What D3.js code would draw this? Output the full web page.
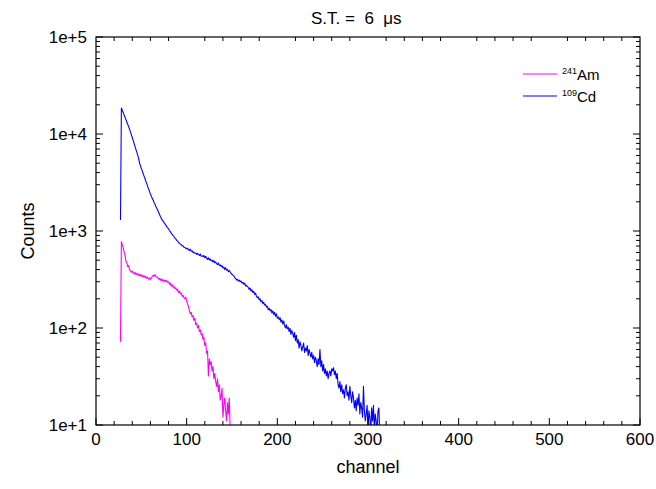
<!DOCTYPE html>
<html><head><meta charset="utf-8">
<script src="https://cdn.jsdelivr.net/npm/d3@7"></script>
<style>
body{margin:0;background:#fff;}
svg{display:block;font-family:"Liberation Sans",Arial,sans-serif;}
</style></head>
<body><svg id="c" width="656" height="489"></svg>
<script>
const title = "S.T. =  6  \u03bcs";
const xLabel = "channel";
const yLabel = "Counts";
const xTicks = [0,100,200,300,400,500,600];
const yTicks = [10,100,1000,10000,100000];
const seriesNames = ["241Am","109Cd"];
const seriesColors = ["#ff00ff","#0000ff"];
const amStart = 27;
const amCounts = [72,
780,720,680,610,560,490,470,430,440,400,
390,375,385,370,360,375,355,365,350,360,
345,355,340,350,335,345,330,340,325,332,
320,328,315,330,338,350,342,355,340,336,
330,318,325,310,322,305,315,300,312,300,
308,295,300,282,290,270,280,262,268,255,
258,245,250,232,240,225,230,212,218,205,
200,208,188,176,168,150,140,145,130,134,
120,126,108,112,100,106,92,96,85,88,
76,80,66,70,55,58,32,48,42,45,
36,40,30,34,28,25,30,22,26,18,
20,24,12,16,19,14,11,17,13,19,
9,8];
const cdStart = 27;
const cdCounts = [1300,
18500,17600,16600,15700,14900,14100,13300,12600,11900,11200,
10500,9800,9200,8600,8000,7450,6950,6500,6050,5600,
5000,4720,4400,4170,3930,3680,3480,3250,3080,2880,
2720,2560,2400,2290,2170,2090,1970,1900,1790,1720,
1640,1560,1490,1410,1350,1300,1270,1220,1190,1150,
1110,1080,1050,1010,985,950,925,895,880,845,
830,800,790,760,750,730,725,700,705,680,
675,665,655,665,640,630,650,618,625,600,
605,592,590,575,590,570,560,578,550,555,
545,560,530,548,525,508,530,502,515,492,
500,478,495,470,480,462,450,468,440,448,
430,440,415,425,400,418,395,402,380,392,
378,365,358,350,345,330,325,312,318,305,
312,300,305,290,296,282,290,270,276,268,
262,250,258,240,248,232,238,222,228,212,
205,210,195,200,186,192,178,184,172,175,
164,168,154,160,150,155,143,150,138,145,
132,140,126,130,122,128,115,121,110,118,
106,100,108,98,102,92,99,86,94,88,
80,90,74,84,70,76,62,72,66,58,
64,70,56,62,58,66,52,60,55,50,
56,48,52,44,50,46,40,48,42,60,
40,46,36,42,34,38,32,36,30,34,
36,32,38,36,39,33,36,30,34,26,
24,28,22,26,21,23,19,24,26,20,
22,18,25,20,17,22,19,15,18,14,
19,16,21,13,17,15,12,25,14,11,
13,16,9,14,12,8,15,11,16,9,
13,11,8,14,15,8];

const svg = d3.select("#c");
const L=96, R=640, T=37, B=425;
const x = d3.scaleLinear().domain([0,600]).range([L,R]);
const y = d3.scaleLog().domain([10,100000]).range([B,T]);

svg.append("defs").append("clipPath").attr("id","clip")
  .append("rect").attr("x",L).attr("y",T).attr("width",R-L).attr("height",B-T);

const series = [
  {name:seriesNames[0], color:seriesColors[0], data:amCounts.map((v,i)=>({ch:amStart+i,v}))},
  {name:seriesNames[1], color:seriesColors[1], data:cdCounts.map((v,i)=>({ch:cdStart+i,v}))}
];
const line = d3.line().x(d=>x(d.ch)).y(d=>y(Math.max(d.v,1)));
const gl = svg.append("g").attr("clip-path","url(#clip)");
series.forEach(s=>{
  gl.append("path").datum(s.data).attr("d",line).attr("fill","none")
    .attr("stroke",s.color).attr("stroke-width",1.1).attr("stroke-linejoin","round");
});

// frame
svg.append("rect").attr("x",L).attr("y",T).attr("width",R-L).attr("height",B-T)
  .attr("fill","none").attr("stroke","#000").attr("stroke-width",1.2);

// x ticks
const xMinor = d3.range(0,601,20);
const tk = svg.append("g").attr("stroke","#000").attr("stroke-width",1);
xMinor.forEach(v=>{
  const major = v%100===0;
  tk.append("line").attr("x1",x(v)).attr("x2",x(v)).attr("y1",B).attr("y2",B-(major?7:4));
  if(!major) tk.append("line").attr("x1",x(v)).attr("x2",x(v)).attr("y1",T).attr("y2",T+4);
});
svg.append("g").selectAll("text").data(xTicks).join("text")
  .attr("x",d=>x(d)).attr("y",B+20).attr("text-anchor","middle")
  .attr("font-size",17).text(d=>d);

// y ticks
const yMinor = [];
for(let e=1;e<5;e++) for(let m=1;m<10;m++) yMinor.push(m*Math.pow(10,e));
yMinor.push(100000);
yMinor.forEach(v=>{
  const major = Math.abs(Math.log10(v)%1)<1e-9;
  tk.append("line").attr("x1",L).attr("x2",L+(major?7:4)).attr("y1",y(v)).attr("y2",y(v));
  tk.append("line").attr("x1",R).attr("x2",R-(major?7:4)).attr("y1",y(v)).attr("y2",y(v));
});
svg.append("g").selectAll("text").data(yTicks).join("text")
  .attr("x",L-9).attr("y",d=>y(d)+6).attr("text-anchor","end")
  .attr("font-size",17).text(d=>"1e+"+Math.round(Math.log10(d)));

// titles
svg.append("text").attr("x",311).attr("y",24).attr("text-anchor","start")
  .attr("xml:space","preserve").style("white-space","pre")
  .attr("font-size",17).text(title);
svg.append("text").attr("x",(L+R)/2).attr("y",473).attr("text-anchor","middle")
  .attr("font-size",18).text(xLabel);
svg.append("text").attr("transform","translate(34,"+((T+B)/2)+") rotate(-90)")
  .attr("text-anchor","middle").attr("font-size",18).text(yLabel);

// legend
series.forEach((s,i)=>{
  const ly = 74 + i*22;
  svg.append("line").attr("x1",523).attr("x2",557).attr("y1",ly).attr("y2",ly)
    .attr("stroke",s.color).attr("stroke-width",1.1);
  const m = s.name.match(/^(\d+)(.*)$/);
  const t = svg.append("text").attr("x",562).attr("y",ly+6).attr("font-size",15);
  t.append("tspan").attr("font-size",9).attr("dy",-6).text(m[1]);
  t.append("tspan").attr("dy",6).text(m[2]);
});
</script></body></html>
